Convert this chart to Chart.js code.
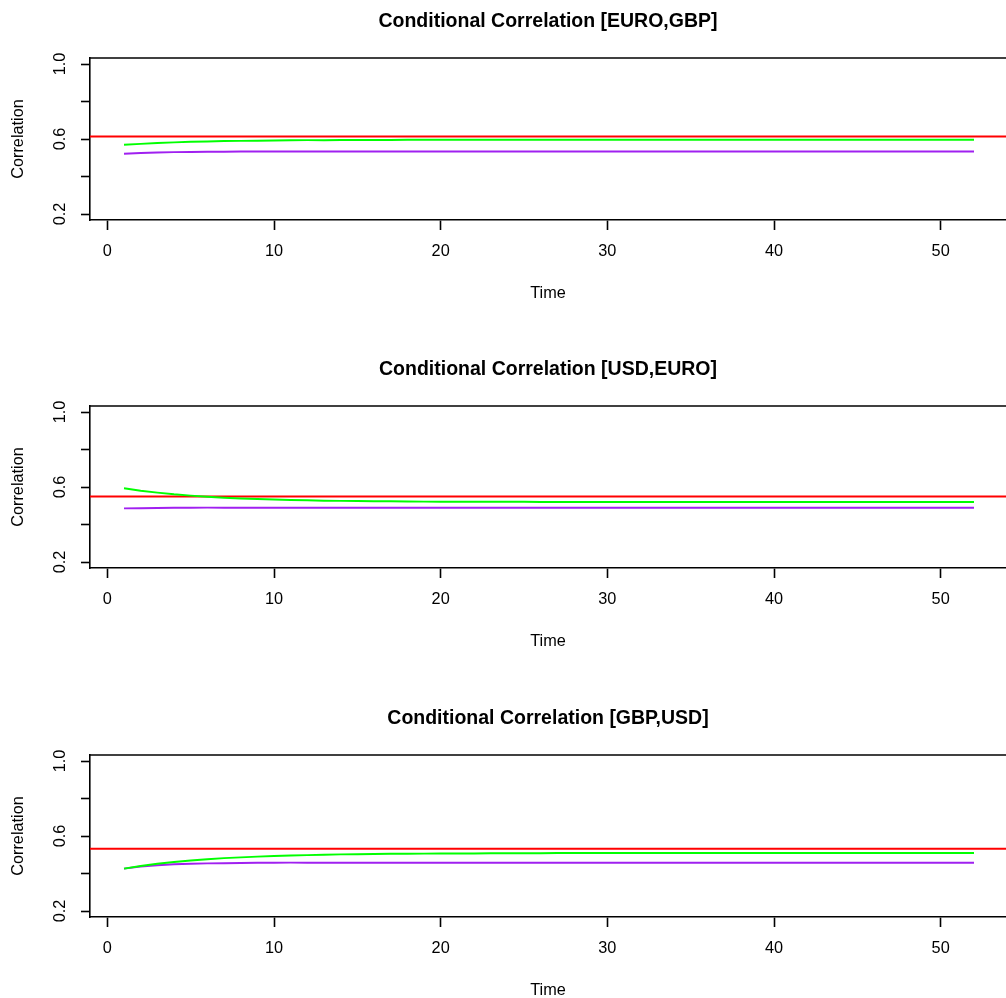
<!DOCTYPE html>
<html>
<head>
<meta charset="utf-8">
<script src="https://cdn.jsdelivr.net/npm/chart.js@4/dist/chart.umd.min.js"></script>
<style>
  html, body { margin: 0; padding: 0; background: #fff; overflow: hidden; }
  #wrap { position: relative; width: 1006px; height: 998px; }
  canvas { position: absolute; left: 0; }
</style>
</head>
<body>
<div id="wrap">
  <canvas id="c1" width="1006" height="348" style="top:0px"></canvas>
  <canvas id="c2" width="1006" height="348" style="top:348px"></canvas>
  <canvas id="c3" width="1006" height="348" style="top:697px"></canvas>
</div>
<script>
// ---- data ----
const time = [1, 2, 3, 4, 5, 6, 7, 8, 9, 10, 11, 12, 13, 14, 15, 16, 17, 18, 19, 20,
  21, 22, 23, 24, 25, 26, 27, 28, 29, 30, 31, 32, 33, 34, 35, 36, 37, 38, 39, 40,
  41, 42, 43, 44, 45, 46, 47, 48, 49, 50, 51, 52];

const titles = [
  "Conditional Correlation [EURO,GBP]",
  "Conditional Correlation [USD,EURO]",
  "Conditional Correlation [GBP,USD]",
];

// green series
const euroGbpGreen = [0.569, 0.574, 0.579, 0.582, 0.585, 0.587, 0.589, 0.590, 0.591, 0.592,
  0.593, 0.594, 0.594, 0.595, 0.595, 0.595, 0.595, 0.596, 0.596, 0.596,
  0.596, 0.596, 0.596, 0.596, 0.596, 0.596, 0.596, 0.596, 0.596, 0.596,
  0.596, 0.596, 0.596, 0.596, 0.596, 0.596, 0.596, 0.596, 0.596, 0.596,
  0.596, 0.596, 0.596, 0.596, 0.596, 0.596, 0.596, 0.596, 0.596, 0.596,
  0.596, 0.596];
const usdEuroGreen = [0.593, 0.580, 0.570, 0.561, 0.554, 0.548, 0.543, 0.539, 0.536, 0.533,
  0.531, 0.529, 0.527, 0.526, 0.525, 0.524, 0.524, 0.523, 0.522, 0.522,
  0.522, 0.521, 0.521, 0.521, 0.521, 0.520, 0.520, 0.520, 0.520, 0.520,
  0.520, 0.520, 0.520, 0.520, 0.520, 0.520, 0.520, 0.520, 0.520, 0.520,
  0.520, 0.520, 0.520, 0.520, 0.520, 0.520, 0.520, 0.520, 0.520, 0.520,
  0.520, 0.520];
const gbpUsdGreen = [0.426, 0.440, 0.452, 0.461, 0.469, 0.476, 0.482, 0.486, 0.490, 0.493,
  0.496, 0.498, 0.500, 0.502, 0.503, 0.504, 0.505, 0.505, 0.506, 0.507,
  0.507, 0.507, 0.508, 0.508, 0.508, 0.508, 0.509, 0.509, 0.509, 0.509,
  0.509, 0.509, 0.509, 0.509, 0.509, 0.509, 0.509, 0.509, 0.509, 0.509,
  0.509, 0.509, 0.509, 0.509, 0.509, 0.509, 0.509, 0.509, 0.509, 0.509,
  0.509, 0.509];

// purple series
const euroGbpPurple = [0.521, 0.525, 0.528, 0.530, 0.531, 0.532, 0.532, 0.533, 0.533, 0.533,
  0.533, 0.533, 0.533, 0.533, 0.533, 0.533, 0.533, 0.533, 0.533, 0.533,
  0.533, 0.533, 0.533, 0.533, 0.533, 0.533, 0.533, 0.533, 0.533, 0.533,
  0.533, 0.533, 0.533, 0.533, 0.533, 0.533, 0.533, 0.533, 0.533, 0.533,
  0.533, 0.533, 0.533, 0.533, 0.533, 0.533, 0.533, 0.533, 0.533, 0.533,
  0.533, 0.533];
const usdEuroPurple = [0.486, 0.487, 0.488, 0.489, 0.489, 0.490, 0.490, 0.490, 0.490, 0.490,
  0.490, 0.490, 0.490, 0.490, 0.490, 0.490, 0.490, 0.490, 0.490, 0.490,
  0.490, 0.490, 0.490, 0.490, 0.490, 0.490, 0.490, 0.490, 0.490, 0.490,
  0.490, 0.490, 0.490, 0.490, 0.490, 0.490, 0.490, 0.490, 0.490, 0.490,
  0.490, 0.490, 0.490, 0.490, 0.490, 0.490, 0.490, 0.490, 0.490, 0.490,
  0.490, 0.490];
const gbpUsdPurple = [0.426, 0.437, 0.444, 0.449, 0.452, 0.454, 0.455, 0.456, 0.457, 0.457,
  0.458, 0.458, 0.458, 0.458, 0.458, 0.458, 0.458, 0.458, 0.458, 0.458,
  0.458, 0.458, 0.458, 0.458, 0.458, 0.458, 0.458, 0.458, 0.458, 0.458,
  0.458, 0.458, 0.458, 0.458, 0.458, 0.458, 0.458, 0.458, 0.458, 0.458,
  0.458, 0.458, 0.458, 0.458, 0.458, 0.458, 0.458, 0.458, 0.458, 0.458,
  0.458, 0.458];

// red horizontal reference level per panel
const redLevels = [0.613, 0.550, 0.532];

// axes
const xMin = -1.04;
const xMax = 53.92;
const xStep = 10;
const yMin = 0.168;
const yMax = 1.032;
const yStep = 0.2;
const yLabels = [0.2, 0.6, 1.0];

const greens = [euroGbpGreen, usdEuroGreen, gbpUsdGreen];
const purples = [euroGbpPurple, usdEuroPurple, gbpUsdPurple];

const FONT = "'Liberation Sans', Arial, Helvetica, sans-serif";

// box top edge, rotated y labels and panel title
const panelDecor = {
  id: "panelDecor",
  afterDraw(chart, args, opts) {
    const { ctx, chartArea: a, scales } = chart;
    const y = scales.y;
    ctx.save();
    ctx.strokeStyle = "#000";
    ctx.lineWidth = 1.6;
    ctx.beginPath();
    ctx.moveTo(a.left - 0.8, a.top);
    ctx.lineTo(a.right + 2, a.top);
    ctx.stroke();

    ctx.fillStyle = "#000";
    ctx.font = "16.3px " + FONT;
    ctx.textAlign = "center";
    ctx.textBaseline = "alphabetic";
    y.ticks.forEach((t) => {
      if (!yLabels.some((v) => Math.abs(v - t.value) < 1e-6)) return;
      const py = y.getPixelForValue(t.value);
      ctx.save();
      ctx.translate(a.left - 25, py);
      ctx.rotate(-Math.PI / 2);
      ctx.fillText(t.value.toFixed(1), 0, 0);
      ctx.restore();
    });

    ctx.font = "bold 19.5px " + FONT;
    ctx.fillText(opts.text, (a.left + a.right) / 2, 27);
    ctx.restore();
  },
};

function makePanel(id, i) {
  const green = time.map((t, k) => ({ x: t, y: greens[i][k] }));
  const purple = time.map((t, k) => ({ x: t, y: purples[i][k] }));
  const red = [
    { x: xMin, y: redLevels[i] },
    { x: xMax, y: redLevels[i] },
  ];

  const config = {
    type: "line",
    data: {
      datasets: [
        { data: green, borderColor: "#00FF00", borderWidth: 2, pointRadius: 0, tension: 0 },
        { data: purple, borderColor: "#A020F0", borderWidth: 2, pointRadius: 0, tension: 0 },
        { data: red, borderColor: "#FF0000", borderWidth: 2, pointRadius: 0, tension: 0 },
      ],
    },
    plugins: [panelDecor],
    options: {
      responsive: false,
      animation: false,
      events: [],
      layout: { padding: { top: 58, left: 0, right: 0, bottom: 0 } },
      scales: {
        x: {
          type: "linear",
          min: xMin,
          max: xMax,
          afterFit: (s) => { s.height = 128; },
          ticks: {
            stepSize: xStep,
            includeBounds: false,
            autoSkip: false,
            maxRotation: 0,
            padding: 12,
            color: "#000",
            font: { family: FONT, size: 16.3 },
          },
          grid: {
            drawOnChartArea: false,
            drawTicks: true,
            tickLength: 10,
            tickColor: "#000",
            tickWidth: 1.6,
          },
          border: { display: true, color: "#000", width: 1.6 },
          title: {
            display: true,
            text: "Time",
            color: "#000",
            font: { family: FONT, size: 16.3 },
            padding: { top: 0, bottom: 45 },
          },
        },
        y: {
          type: "linear",
          min: yMin,
          max: yMax,
          afterFit: (s) => { s.width = 90; },
          ticks: {
            stepSize: yStep,
            includeBounds: false,
            display: false,
          },
          grid: {
            drawOnChartArea: false,
            drawTicks: true,
            tickLength: 9,
            tickColor: "#000",
            tickWidth: 1.6,
          },
          border: { display: true, color: "#000", width: 1.6 },
          title: {
            display: true,
            text: "Correlation",
            color: "#000",
            font: { family: FONT, size: 16.3 },
            padding: { top: 9, bottom: 0 },
          },
        },
      },
      plugins: {
        legend: { display: false },
        tooltip: { enabled: false },
        panelDecor: { text: titles[i] },
      },
    },
  };

  return new Chart(document.getElementById(id), config);
}

makePanel("c1", 0);
makePanel("c2", 1);
makePanel("c3", 2);
</script>
</body>
</html>
